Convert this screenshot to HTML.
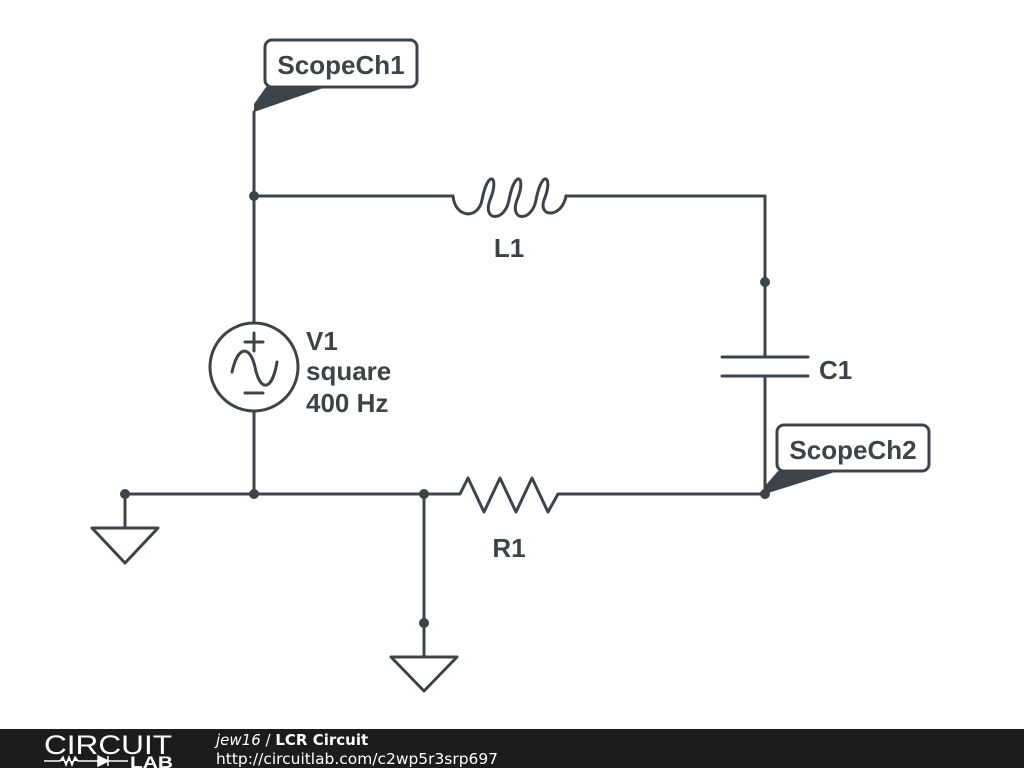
<!DOCTYPE html>
<html><head><style>
body{margin:0;width:1024px;height:768px;background:#fff;overflow:hidden;font-family:"Liberation Sans",sans-serif}
</style></head><body>
<svg width="1024" height="768" viewBox="0 0 1024 768" xmlns="http://www.w3.org/2000/svg">
<g stroke="#3d4449" stroke-width="3" fill="none" stroke-linejoin="round" stroke-linecap="round">
<path d="M254,112 V323 M254,411 V494"/>
<path d="M254,196 H453"/>
<path d="M453,196 C455,218 478,220 482,200 C488,168 500,176 490,200 C482,222 505,222 509,200 C515,168 527,176 517,200 C509,222 532,222 536,200 C542,168 554,176 544,200 C538,218 562,218 566,196"/>
<path d="M566,196 H765 V357"/>
<path d="M722,357 H808 M722,376 H808"/>
<path d="M765,376 V494"/>
<path d="M125,494 H460 L468,478 L484,512 L500,478 L516,512 L532,478 L548,512 L558,494 H765"/>
<path d="M125,494 V528 M92,528 H158 L125,563 Z"/>
<path d="M424,494 V657 M391,657 H457 L424,691 Z"/>
<circle cx="254" cy="367" r="44"/>
<path d="M232,372 C238,345 250,345 255,367 C260,392 272,392 277,362"/>
<path d="M254,333 V351 M245,342 H263 M245,393 H263"/>
<rect x="265" y="40" width="152" height="47" rx="7"/>
<rect x="777" y="425" width="152" height="46" rx="7"/>
</g>
<g fill="#3d4449">
<polygon points="266,87 326,87 254,112 254,104"/>
<polygon points="778,471 838,471 765,494 765,486"/>
<circle cx="254" cy="196" r="5"/><circle cx="765" cy="282" r="5"/>
<circle cx="125" cy="494" r="5"/><circle cx="254" cy="494" r="5"/>
<circle cx="424" cy="494" r="5"/><circle cx="765" cy="494" r="5"/>
<circle cx="424" cy="623" r="5"/>
</g>
<g fill="#3d4449" font-family="Liberation Sans, sans-serif" font-weight="bold" font-size="26">
<text x="341" y="74" text-anchor="middle">ScopeCh1</text>
<text x="853" y="459" text-anchor="middle">ScopeCh2</text>
<text x="509" y="257" text-anchor="middle">L1</text>
<text x="819" y="379">C1</text>
<text x="509" y="557" text-anchor="middle">R1</text>
<text x="306" y="350">V1</text>
<text x="306" y="380">square</text>
<text x="306" y="412">400 Hz</text>
</g>
<rect x="0" y="729" width="1024" height="39" fill="#1c1c1c"/>
<text x="44" y="754" fill="#fff" font-size="27" font-family="Liberation Sans, sans-serif" textLength="128" lengthAdjust="spacingAndGlyphs">CIRCUIT</text>
<path d="M44,761 H60 L63,757 L66,765 L69,757 L72,765 L75,757 L78,761 H98 M98,756 L108,761 L98,766 Z M108,756 V766 M108,761 H128" stroke="#fff" stroke-width="1.5" fill="#fff"/>
<text x="130" y="768" fill="#fff" font-size="17" font-weight="bold" font-family="Liberation Sans, sans-serif" textLength="43" lengthAdjust="spacingAndGlyphs">LAB</text>
<text x="216" y="745" fill="#fff" font-size="15" font-family="DejaVu Sans, sans-serif"><tspan font-style="italic">jew16</tspan> / <tspan font-weight="bold">LCR Circuit</tspan></text>
<text x="216" y="764" fill="#fff" font-size="15" font-family="DejaVu Sans, sans-serif" textLength="282" lengthAdjust="spacingAndGlyphs">http://circuitlab.com/c2wp5r3srp697</text>
</svg>
</body></html>
